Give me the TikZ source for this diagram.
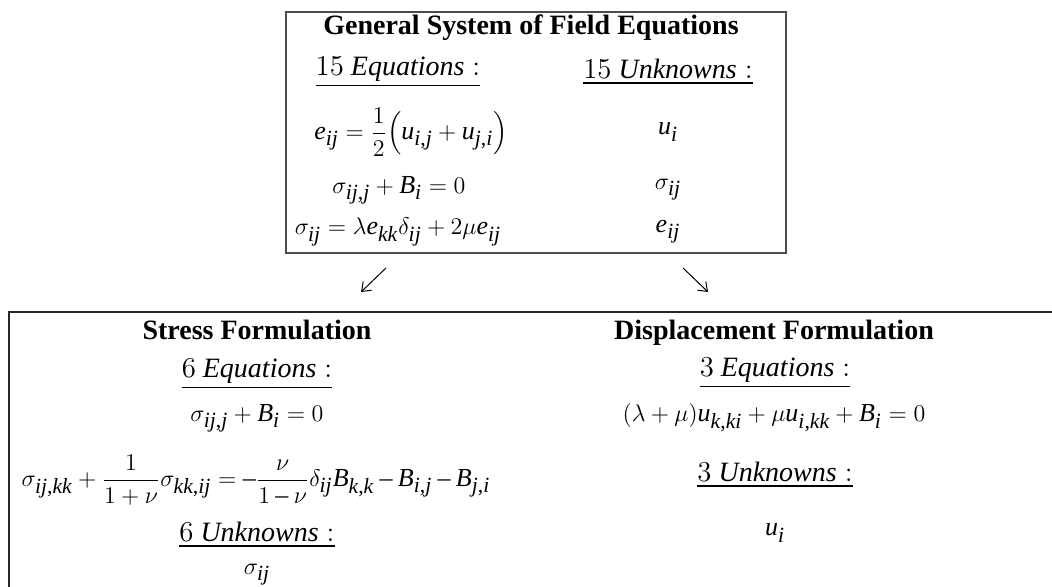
\documentclass[tikz,border=0pt]{standalone}
\usepackage{amsmath}
\usepackage{fontspec}
\setmainfont{Liberation Serif}
\usepackage[italic]{mathastext}
\usetikzlibrary{arrows.meta,positioning}

\begin{document}
\begin{tikzpicture}[x=0.5pt,y=-0.5pt,font=\fontsize{14}{17}\selectfont,
        cell/.style={inner sep=0pt,anchor=center},
        eqn/.style={cell,font=\fontsize{13}{15}\selectfont},
        head/.style={cell,font=\fontsize{14}{17}\selectfont\bfseries},
        turn/.style={-{Straight Barb[length=4pt,width=6pt]},line width=0.5pt}]
        \useasboundingbox (0,0) rectangle (1052,587);
        % frames
        \draw[line width=1pt,black!70] (286,12) rectangle (786,253);
        \draw[line width=1.1pt,black!85] (1052,312) -- (9,312) -- (9,587);
        % general system
        \node[head] (gen) at (531,28) {General System of Field Equations};
        \node[cell] (geq) at (398,72) {$\underline{15\ \mathit{Equations}:}$};
        \node[cell] (gun) at (668,72) {$\underline{15\ \mathit{Unknowns}:}$};
        \node[eqn] (g1) at (411,132) {$\displaystyle e_{ij}=\frac{1}{2}\Bigl(u_{i,j}+u_{j,i}\Bigr)$};
        \node[eqn] (u1) at (668,132) {$u_i$};
        \node[eqn] (g2) at (399,190) {$\sigma_{ij,j}+B_i=0$};
        \node[eqn] (u2) at (668,190) {$\sigma_{ij}$};
        \node[eqn] (g3) at (398,232) {$\sigma_{ij}=\lambda e_{kk}\delta_{ij}+2\mu e_{ij}$};
        \node[eqn] (u3) at (668,232) {$e_{ij}$};
        % arrows
        \coordinate (sa) at (386,268); \coordinate (sb) at (361,292);
        \coordinate (da) at (683,268); \coordinate (db) at (708,292);
        \draw[turn] (sa)--(sb); \draw[turn] (da)--(db);
        % stress formulation
        \node[head] (str) at (257,330) {Stress Formulation};
        \node[cell] (seq) at (257,374) {$\underline{6\ \mathit{Equations}:}$};
        \node[eqn] (s1) at (257,418) {$\sigma_{ij,j}+B_i=0$};
        \node[eqn] (s2) at (256,480) {$\displaystyle \sigma_{ij,kk}+\frac{1}{1+\nu}\sigma_{kk,ij}=-\frac{\nu}{1-\nu}\delta_{ij}B_{k,k}-B_{i,j}-B_{j,i}$};
        \node[cell] (sun) at (257,535) {$\underline{6\ \mathit{Unknowns}:}$};
        \node[eqn] (s3) at (257,575) {$\sigma_{ij}$};
        % displacement formulation
        \node[head] (dis) at (774,333) {Displacement Formulation};
        \node[cell] (deq) at (775,373) {$\underline{3\ \mathit{Equations}:}$};
        \node[eqn] (d1) at (774,418) {$(\lambda+\mu)u_{k,ki}+\mu u_{i,kk}+B_i=0$};
        \node[cell] (dun) at (775,475) {$\underline{3\ \mathit{Unknowns}:}$};
        \node[eqn] (d2) at (775,533) {$u_i$};
      \end{tikzpicture}
\end{document}
